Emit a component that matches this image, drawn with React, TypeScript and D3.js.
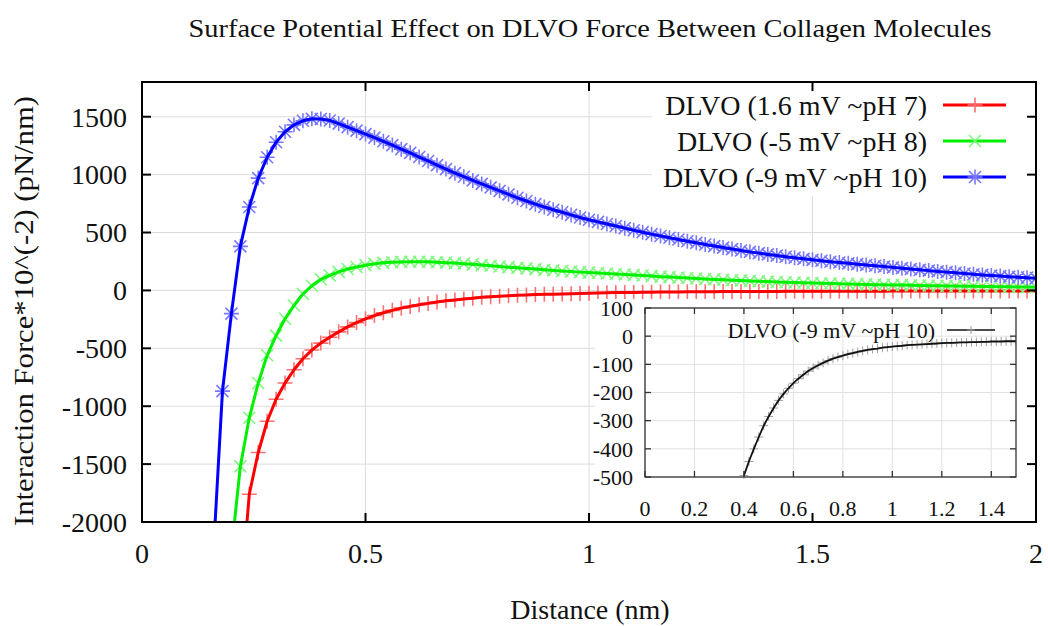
import React from 'react';
import * as d3 from 'd3';

// ---- data ----
const distance = [
  0.16, 0.18, 0.20, 0.22, 0.24, 0.26, 0.28, 0.30, 0.32, 0.34,
  0.36, 0.38, 0.40, 0.42, 0.44, 0.46, 0.48, 0.50, 0.52, 0.54,
  0.56, 0.58, 0.60, 0.62, 0.64, 0.66, 0.68, 0.70, 0.72, 0.74,
  0.76, 0.78, 0.80, 0.82, 0.84, 0.86, 0.88, 0.90, 0.92, 0.94,
  0.96, 0.98, 1.00, 1.02, 1.04, 1.06, 1.08, 1.10, 1.12, 1.14,
  1.16, 1.18, 1.20, 1.22, 1.24, 1.26, 1.28, 1.30, 1.32, 1.34,
  1.36, 1.38, 1.40, 1.42, 1.44, 1.46, 1.48, 1.50, 1.52, 1.54,
  1.56, 1.58, 1.60, 1.62, 1.64, 1.66, 1.68, 1.70, 1.72, 1.74,
  1.76, 1.78, 1.80, 1.82, 1.84, 1.86, 1.88, 1.90, 1.92, 1.94,
  1.96, 1.98, 2.00,
];

const dlvoPH7: (number | null)[] = [
  null, null, null, -2700, -1760, -1400, -1130, -940, -800, -685,
  -590, -515, -455, -405, -358, -315, -278, -245, -217, -193,
  -172, -153, -138, -124, -112, -100, -90, -82, -74, -67,
  -60, -54, -50, -46, -42, -39, -36, -34, -32, -30,
  -28, -26, -24, -22, -20, -19, -18, -17, -16, -15,
  -14, -14, -13, -12, -12, -11, -11, -10, -10, -10,
  -9, -9, -9, -9, -8, -8, -8, -8, -8, -7,
  -7, -7, -7, -7, -7, -7, -6, -6, -6, -6,
  -6, -6, -6, -6, -5, -5, -5, -5, -5, -5,
  -5, -5, -5,
];

const dlvoPH8: (number | null)[] = [
  null, null, -2250, -1520, -1100, -800, -560, -390, -245, -130,
  -30, 40, 95, 130, 160, 185, 202, 218, 230, 238,
  243, 246, 248, 248, 247, 244, 240, 236, 231, 225,
  219, 213, 207, 201, 195, 190, 184, 178, 173, 168,
  163, 158, 154, 150, 146, 142, 138, 134, 129, 124,
  119, 115, 111, 107, 103, 99, 95, 92, 88, 85,
  82, 79, 76, 73, 71, 68, 66, 64, 62, 60,
  58, 56, 54, 52, 50, 49, 47, 46, 44, 43,
  41, 40, 39, 38, 36, 35, 34, 33, 32, 31,
  30, 29, 28,
];

const dlvoPH10: (number | null)[] = [
  -2250, -870, -200, 380, 720, 970, 1150, 1280, 1370, 1430,
  1465, 1482, 1480, 1468, 1440, 1410, 1380, 1350, 1320, 1288,
  1255, 1220, 1188, 1152, 1118, 1082, 1048, 1013, 982, 950,
  920, 890, 860, 830, 800, 772, 745, 720, 697, 675,
  652, 630, 610, 592, 574, 556, 538, 520, 503, 486,
  470, 455, 440, 425, 411, 397, 383, 370, 357, 345,
  333, 322, 311, 301, 291, 282, 273, 264, 256, 248,
  241, 234, 227, 220, 213, 206, 199, 192, 185, 178,
  171, 164, 158, 152, 146, 140, 134, 129, 124, 119,
  114, 110, 106,
];

const insetDistance = [
  0.40, 0.42, 0.44, 0.46, 0.48, 0.50, 0.52, 0.54, 0.56, 0.58,
  0.60, 0.62, 0.64, 0.66, 0.68, 0.70, 0.72, 0.74, 0.76, 0.78,
  0.80, 0.82, 0.84, 0.86, 0.88, 0.90, 0.92, 0.94, 0.96, 0.98,
  1.00, 1.02, 1.04, 1.06, 1.08, 1.10, 1.12, 1.14, 1.16, 1.18,
  1.20, 1.22, 1.24, 1.26, 1.28, 1.30, 1.32, 1.34, 1.36, 1.38,
  1.40, 1.42, 1.44, 1.46, 1.48, 1.50,
];

const insetDlvo = [
  -495, -445, -400, -358, -318, -285, -255, -228, -205, -185,
  -167, -151, -137, -124, -113, -103, -95, -87, -80, -74,
  -69, -64, -60, -56, -52, -49, -46, -44, -41, -39,
  -37, -35, -34, -32, -31, -30, -29, -28, -27, -26,
  -25, -24, -24, -23, -22, -22, -21, -21, -20, -20,
  -19, -19, -19, -18, -18, -18,
];

const seriesLabels = ['DLVO (1.6 mV ~pH 7)', 'DLVO (-5 mV ~pH 8)', 'DLVO (-9 mV ~pH 10)'];
const insetLabel = 'DLVO (-9 mV ~pH 10)';

const xTicks = [0, 0.5, 1, 1.5, 2];
const yTicks = [-2000, -1500, -1000, -500, 0, 500, 1000, 1500];
const insetXTicks = [0, 0.2, 0.4, 0.6, 0.8, 1, 1.2, 1.4];
const insetYTicks = [-500, -400, -300, -200, -100, 0, 100];

// ---- layout ----
const W = 1048;
const H = 626;
const FONT = "'Liberation Serif', 'Times New Roman', Times, serif";
const txt = { fontFamily: FONT };

const plot = { left: 142, right: 1036, top: 82, bottom: 522 };
const inset = { left: 645, right: 1016, top: 308, bottom: 477 };

const x = d3.scaleLinear().domain([0, 2]).range([plot.left, plot.right]);
const y = d3.scaleLinear().domain([-2000, 1800]).range([plot.bottom, plot.top]);
const xi = d3.scaleLinear().domain([0, 1.5]).range([inset.left, inset.right]);
const yi = d3.scaleLinear().domain([-500, 100]).range([inset.bottom, inset.top]);

type Shape = 'plus' | 'cross' | 'star';

function markerPath(shape: Shape, cx: number, cy: number, s: number): string {
  const plus = `M${cx - s},${cy}H${cx + s}M${cx},${cy - s}V${cy + s}`;
  const c = s * 0.8;
  const cross = `M${cx - c},${cy - c}L${cx + c},${cy + c}M${cx - c},${cy + c}L${cx + c},${cy - c}`;
  if (shape === 'plus') return plus;
  if (shape === 'cross') return cross;
  return plus + cross;
}

const series = [
  { label: seriesLabels[0], values: dlvoPH7, color: '#ff0000', mark: '#ff7070', shape: 'plus' as Shape },
  { label: seriesLabels[1], values: dlvoPH8, color: '#00f000', mark: '#80f880', shape: 'cross' as Shape },
  { label: seriesLabels[2], values: dlvoPH10, color: '#0000ff', mark: '#7878ff', shape: 'star' as Shape },
];

export default function App() {
  const line = d3
    .line<[number, number | null]>()
    .defined((d) => d[1] !== null)
    .x((d) => x(d[0]))
    .y((d) => y(d[1] as number));

  const insetLine = d3
    .line<[number, number]>()
    .x((d) => xi(d[0]))
    .y((d) => yi(d[1]));

  const tickLen = 9;
  const iTick = 6;

  return (
    <svg
      width={W}
      height={H}
      viewBox={`0 0 ${W} ${H}`}
      style={{ position: 'absolute', left: 0, top: 0, background: '#fff' }}
    >
      <defs>
        <clipPath id="plotClip">
          <rect x={plot.left} y={plot.top} width={plot.right - plot.left} height={plot.bottom - plot.top} />
        </clipPath>
        <clipPath id="insetClip">
          <rect x={inset.left} y={inset.top} width={inset.right - inset.left} height={inset.bottom - inset.top + 2} />
        </clipPath>
      </defs>
      <rect x={0} y={0} width={W} height={H} fill="#fff" />

      {/* title */}
      <text x={590} y={37} textAnchor="middle" fontSize={26} fill="#111" style={txt} textLength={803} lengthAdjust="spacingAndGlyphs">
        Surface Potential Effect on DLVO Force Between Collagen Molecules
      </text>

      {/* grid */}
      <g stroke="#dcdcdc" strokeWidth={1}>
        {xTicks.map((t) => (
          <line key={'gx' + t} x1={x(t)} x2={x(t)} y1={plot.top} y2={plot.bottom} />
        ))}
        {yTicks.map((t) => (
          <line key={'gy' + t} x1={plot.left} x2={plot.right} y1={y(t)} y2={y(t)} />
        ))}
      </g>

      {/* series */}
      <g clipPath="url(#plotClip)">
        {series.map((s) => {
          const pts: [number, number | null][] = distance.map((d, i) => [d, s.values[i]]);
          return (
            <g key={s.label}>
              <path
                d={pts
                  .filter((p) => p[1] !== null)
                  .map((p) => markerPath(s.shape, x(p[0]), y(p[1] as number), 7.5))
                  .join('')}
                stroke={s.mark}
                strokeWidth={1.6}
                fill="none"
              />
              <path d={line(pts) || ''} stroke={s.color} strokeWidth={3} fill="none" strokeLinejoin="round" />
            </g>
          );
        })}
      </g>

      {/* legend */}
      <rect x={652} y={plot.top + 1} width={plot.right - 652 - 1} height={113} fill="#fff" />
      {series.map((s, i) => {
        const ly = 105 + i * 36;
        return (
          <g key={'lg' + i}>
            <text x={927} y={ly} dy="0.35em" textAnchor="end" fontSize={28} fill="#111" style={txt}>
              {s.label}
            </text>
            <line x1={943} x2={1006} y1={ly} y2={ly} stroke={s.color} strokeWidth={3} />
            <path d={markerPath(s.shape, 975, ly, 7.5)} stroke={s.mark} strokeWidth={1.6} fill="none" />
          </g>
        );
      })}

      {/* inset background */}
      <rect x={595} y={299} width={plot.right - 595} height={plot.bottom - 299} fill="#fff" />

      {/* inset grid */}
      <g stroke="#e2e2e2" strokeWidth={1}>
        {insetXTicks.map((t) => (
          <line key={'igx' + t} x1={xi(t)} x2={xi(t)} y1={inset.top} y2={inset.bottom} />
        ))}
        {insetYTicks.map((t) => (
          <line key={'igy' + t} x1={inset.left} x2={inset.right} y1={yi(t)} y2={yi(t)} />
        ))}
      </g>

      {/* inset legend */}
      <text x={935} y={330} dy="0.35em" textAnchor="end" fontSize={22} fill="#111" style={txt}>
        {insetLabel}
      </text>
      <line x1={947} x2={995} y1={330} y2={330} stroke="#111" strokeWidth={1.5} />
      <path d={markerPath('plus', 971, 330, 4)} stroke="#999" strokeWidth={1} fill="none" />

      {/* inset series */}
      <g clipPath="url(#insetClip)">
        <path
          d={insetDistance.map((d, i) => markerPath('plus', xi(d), yi(insetDlvo[i]), 4.5)).join('')}
          stroke="#a0a0a0"
          strokeWidth={1}
          fill="none"
        />
        <path
          d={insetLine(insetDistance.map((d, i) => [d, insetDlvo[i]] as [number, number])) || ''}
          stroke="#111"
          strokeWidth={1.8}
          fill="none"
        />
      </g>

      {/* inset frame & ticks */}
      <g stroke="#333" strokeWidth={1.3}>
        <rect x={inset.left} y={inset.top} width={inset.right - inset.left} height={inset.bottom - inset.top} fill="none" />
        {insetXTicks.map((t) => (
          <g key={'itx' + t}>
            <line x1={xi(t)} x2={xi(t)} y1={inset.bottom} y2={inset.bottom - iTick} />
            <line x1={xi(t)} x2={xi(t)} y1={inset.top} y2={inset.top + iTick} />
          </g>
        ))}
        {insetYTicks.map((t) => (
          <g key={'ity' + t}>
            <line x1={inset.left} x2={inset.left + iTick} y1={yi(t)} y2={yi(t)} />
            <line x1={inset.right} x2={inset.right - iTick} y1={yi(t)} y2={yi(t)} />
          </g>
        ))}
      </g>
      <g fontSize={22} fill="#111" style={txt}>
        {insetXTicks.map((t) => (
          <text key={'ixl' + t} x={xi(t)} y={508} dy="0.35em" textAnchor="middle">
            {String(t)}
          </text>
        ))}
        {insetYTicks.map((t) => (
          <text key={'iyl' + t} x={633} y={yi(t)} dy="0.35em" textAnchor="end">
            {String(t)}
          </text>
        ))}
      </g>

      {/* main frame & ticks */}
      <g stroke="#000" strokeWidth={2}>
        <rect x={plot.left} y={plot.top} width={plot.right - plot.left} height={plot.bottom - plot.top} fill="none" />
        {xTicks.map((t) => (
          <g key={'tx' + t}>
            <line x1={x(t)} x2={x(t)} y1={plot.bottom} y2={plot.bottom - tickLen} />
            <line x1={x(t)} x2={x(t)} y1={plot.top} y2={plot.top + tickLen} />
          </g>
        ))}
        {yTicks.map((t) => (
          <g key={'ty' + t}>
            <line x1={plot.left} x2={plot.left + tickLen} y1={y(t)} y2={y(t)} />
            <line x1={plot.right} x2={plot.right - tickLen} y1={y(t)} y2={y(t)} />
          </g>
        ))}
      </g>

      {/* main tick labels */}
      <g fontSize={28} fill="#111" style={txt}>
        {xTicks.map((t) => (
          <text key={'xl' + t} x={x(t)} y={553} dy="0.35em" textAnchor="middle">
            {String(t)}
          </text>
        ))}
        {yTicks.map((t) => (
          <text key={'yl' + t} x={127} y={y(t)} dy="0.35em" textAnchor="end">
            {String(t)}
          </text>
        ))}
      </g>

      {/* axis titles */}
      <text x={590} y={609} dy="0.35em" textAnchor="middle" fontSize={28} fill="#111" style={txt}>
        Distance (nm)
      </text>
      <text
        transform={`translate(23,${311}) rotate(-90)`}
        textAnchor="middle"
        dy="0.35em"
        fontSize={28}
        fill="#111"
        style={txt}
        textLength={430}
        lengthAdjust="spacingAndGlyphs"
      >
        Interaction Force*10^(-2) (pN/nm)
      </text>
    </svg>
  );
}
